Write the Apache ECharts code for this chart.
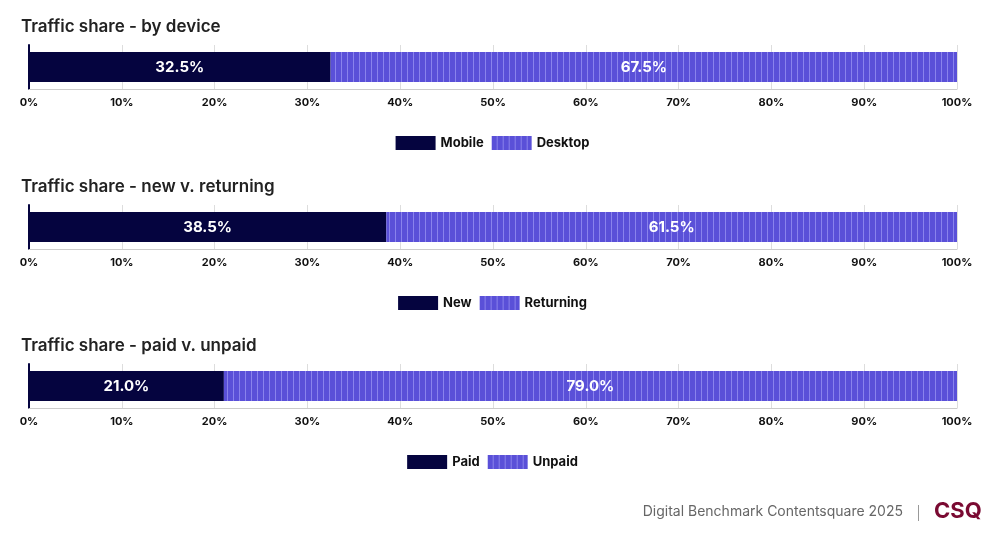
<!DOCTYPE html>
<html><head><meta charset="utf-8">
<script src="https://cdn.jsdelivr.net/npm/echarts@6/dist/echarts.min.js"></script>
<style>body{margin:0;background:#fff}#c{width:985px;height:538px}</style>
</head><body><div id="c"></div>
<script>
// data
const titles = ['Traffic share - by device', 'Traffic share - new v. returning', 'Traffic share - paid v. unpaid'];
const firstNames = ['Mobile', 'New', 'Paid'];
const secondNames = ['Desktop', 'Returning', 'Unpaid'];
const firstValues = [32.5, 38.5, 21.0];
const secondValues = [67.5, 61.5, 79.0];

const DARK = '#05043f';
// striped purple fill
let cv = document.createElement('canvas');
cv.width = 6; cv.height = 4;
let ctx = cv.getContext('2d');
ctx.fillStyle = '#5a50d8'; ctx.fillRect(0, 0, 6, 4);
ctx.fillStyle = '#8a83ec'; ctx.fillRect(5, 0, 1, 4);
const stripe = {image: cv, repeat: 'repeat'};

const tops = [45, 205, 364];
const font = 'Inter, "Noto Sans", sans-serif';
let option = {animation: false, title: [], grid: [], xAxis: [], yAxis: [], series: [], legend: [],
  graphic: [
    {type: 'text', right: 82, top: 505, style: {text: 'Digital Benchmark Contentsquare 2025', fill: '#666', font: '14px ' + font}},
    {type: 'rect', shape: {x: 918, y: 505, width: 1, height: 16}, style: {fill: '#999'}},
    {type: 'text', left: 934, top: 500, style: {text: 'CSQ', fill: '#7a0a32', font: 'bold 22px ' + font}}
  ]};
titles.forEach(function (t, i) {
  let top = tops[i];
  option.title.push({text: t, left: 16, top: top - 32, textStyle: {fontSize: 17, fontWeight: 600, color: '#222', fontFamily: font}});
  option.grid.push({left: 29, width: 928, top: top, height: 44});
  option.xAxis.push({gridIndex: i, type: 'value', min: 0, max: 100, interval: 10,
    axisLabel: {formatter: '{value}%', color: '#111', fontWeight: 'bold', fontSize: 11, fontFamily: font},
    axisLine: {show: true, lineStyle: {color: '#ccc'}}, axisTick: {show: false},
    splitLine: {show: true, lineStyle: {color: '#ddd'}}});
  option.yAxis.push({gridIndex: i, type: 'category', data: [''], axisLine: {show: true, lineStyle: {color: DARK, width: 2}},
    axisTick: {show: false}, axisLabel: {show: false}});
  let lbl = {show: true, position: 'inside', color: '#fff', fontWeight: 'bold', fontSize: 15, fontFamily: font,
    formatter: function (p) { return p.value.toFixed(1) + '%'; }};
  option.series.push({name: firstNames[i], type: 'bar', stack: 's' + i, xAxisIndex: i, yAxisIndex: i,
    barWidth: 30, data: [firstValues[i]], itemStyle: {color: DARK}, label: lbl});
  option.series.push({name: secondNames[i], type: 'bar', stack: 's' + i, xAxisIndex: i, yAxisIndex: i,
    barWidth: 30, data: [secondValues[i]], itemStyle: {color: stripe}, label: lbl});
  option.legend.push({data: [firstNames[i], secondNames[i]], top: top + 86, left: 'center', itemWidth: 40, itemHeight: 14,
    itemGap: 8, icon: 'rect', textStyle: {fontWeight: 'bold', fontSize: 13, color: '#111', fontFamily: font}});
});
echarts.init(document.getElementById('c')).setOption(option);
</script></body></html>
